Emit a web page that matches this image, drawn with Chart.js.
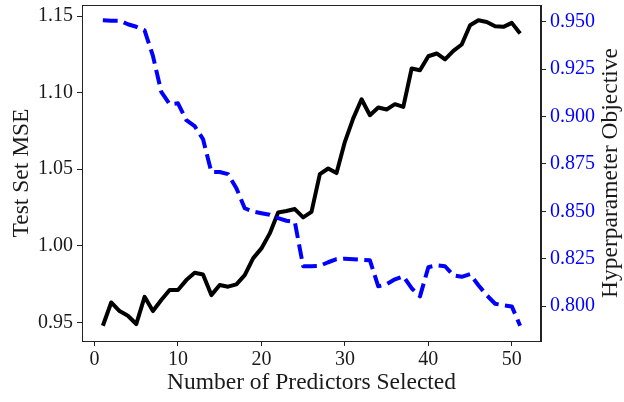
<!DOCTYPE html>
<html>
<head>
<meta charset="utf-8">
<script src="https://cdn.jsdelivr.net/npm/chart.js@4.4.1/dist/chart.umd.min.js"></script>
<style>
  html, body { margin: 0; padding: 0; background: #ffffff; }
  #wrap { width: 624px; height: 402px; }
</style>
</head>
<body>
<div id="wrap"><canvas id="c" width="624" height="402"></canvas></div>
<script>
// Number of predictors kept at each step
const predictors = [1, 2, 3, 4, 5, 6, 7, 8, 9, 10, 11, 12, 13, 14, 15, 16, 17, 18, 19, 20,
  21, 22, 23, 24, 25, 26, 27, 28, 29, 30, 31, 32, 33, 34, 35, 36, 37, 38, 39, 40,
  41, 42, 43, 44, 45, 46, 47, 48, 49, 50, 51];

// Test-set mean squared error (left axis)
const testMSE = [0.9478, 0.9630, 0.9574, 0.9543, 0.9489, 0.9667, 0.9574, 0.9646, 0.9711, 0.9711,
  0.9776, 0.9824, 0.9813, 0.9678, 0.9744, 0.9733, 0.9748, 0.9809, 0.9918, 0.9983,
  1.0081, 1.0218, 1.0227, 1.0240, 1.0186, 1.0222, 1.0468, 1.0505, 1.0475, 1.0679,
  1.0832, 1.0957, 1.0853, 1.0903, 1.0890, 1.0925, 1.0907, 1.1158, 1.1147, 1.1238,
  1.1256, 1.1217, 1.1273, 1.1315, 1.1440, 1.1473, 1.1462, 1.1434, 1.1430, 1.1456, 1.1386];

// Hyperparameter objective (right axis)
const hyperObjective = [0.9508, 0.9506, 0.9506, 0.9487, 0.9474, 0.9455, 0.9320, 0.9130, 0.9065, 0.9070,
  0.8981, 0.8949, 0.8881, 0.8707, 0.8707, 0.8696, 0.8622, 0.8516, 0.8498, 0.8490,
  0.8482, 0.8464, 0.8450, 0.8444, 0.8210, 0.8210, 0.8212, 0.8231, 0.8247, 0.8250,
  0.8247, 0.8244, 0.8241, 0.8104, 0.8115, 0.8141, 0.8157, 0.8094, 0.8051, 0.8205,
  0.8215, 0.8210, 0.8162, 0.8154, 0.8168, 0.8110, 0.8057, 0.8012, 0.8004, 0.7998, 0.7896];

// Tick positions
const xTicks = [0, 10, 20, 30, 40, 50];
const mseTicks = [0.95, 1.00, 1.05, 1.10, 1.15];
const objTicks = [0.800, 0.825, 0.850, 0.875, 0.900, 0.925, 0.950];

// Axis titles
const xTitle = 'Number of Predictors Selected';
const mseTitle = 'Test Set MSE';
const objTitle = 'Hyperparameter Objective';

const SERIF = "'Liberation Serif', 'DejaVu Serif', serif";
const INK = '#1a1a1a';

// Auto-range with a 5% margin on each side
function padded(values) {
  const lo = Math.min(...values), hi = Math.max(...values);
  const m = (hi - lo) * 0.05;
  return { min: lo - m, max: hi + m };
}
const xr = padded(predictors);
const mr = padded(testMSE);
const orr = padded(hyperObjective);

const toPoints = (ys) => predictors.map((x, i) => ({ x, y: ys[i] }));
const fixTicks = (list) => (scale) => { scale.ticks = list.map(v => ({ value: v })); };
// Fixed axis thickness; tick labels may overhang the plot edges
const fitTo = (prop, size) => (s) => {
  s[prop] = size;
  s.paddingTop = 0; s.paddingBottom = 0; s.paddingLeft = 0; s.paddingRight = 0;
};

// Closes the frame on top and writes the right-hand axis title bottom-to-top
const framePlugin = {
  id: 'frame',
  afterDraw(chart) {
    const { ctx, chartArea: a } = chart;
    ctx.save();
    ctx.strokeStyle = '#222222';
    ctx.lineWidth = 1;
    ctx.strokeRect(a.left + 0.5, a.top + 0.5, a.right - a.left - 1, a.bottom - a.top);
    const s = chart.scales.yObj;
    ctx.translate(s.right - 13, (a.top + a.bottom) / 2);
    ctx.rotate(-Math.PI / 2);
    ctx.font = '23.5px ' + SERIF;
    ctx.fillStyle = INK;
    ctx.textAlign = 'center';
    ctx.textBaseline = 'middle';
    ctx.fillText(objTitle, 0, 0);
    ctx.restore();
  }
};

const tickFont = { family: SERIF, size: 20 };
const titleFont = { family: SERIF, size: 23.5 };
const gridOpts = { drawOnChartArea: false, drawTicks: true, tickLength: 5, tickColor: '#222222', tickWidth: 1 };
const borderOpts = { color: '#222222', width: 1 };

new Chart(document.getElementById('c'), {
  type: 'line',
  data: {
    datasets: [
      {
        label: objTitle,
        data: toPoints(hyperObjective),
        yAxisID: 'yObj',
        borderColor: '#0000ff',
        borderWidth: 4,
        borderDash: [14.8, 6.4],
        borderJoinStyle: 'round',
        pointRadius: 0,
        tension: 0,
        fill: false,
        order: 0
      },
      {
        label: mseTitle,
        data: toPoints(testMSE),
        yAxisID: 'yMse',
        borderColor: '#000000',
        borderWidth: 4,
        borderJoinStyle: 'round',
        pointRadius: 0,
        tension: 0,
        fill: false,
        order: 1
      }
    ]
  },
  options: {
    responsive: false,
    animation: false,
    devicePixelRatio: 1,
    layout: { padding: { top: 5, left: 0, right: 0, bottom: 0 } },
    plugins: { legend: { display: false }, tooltip: { enabled: false } },
    scales: {
      x: {
        type: 'linear',
        min: xr.min, max: xr.max,
        afterBuildTicks: fixTicks(xTicks),
        afterFit: fitTo('height', 61),
        grid: gridOpts,
        border: borderOpts,
        ticks: { font: tickFont, color: INK, padding: 2, maxRotation: 0, callback: (v) => String(v) },
        title: { display: true, text: xTitle, font: titleFont, color: INK, padding: { top: 0, bottom: 5 } }
      },
      yMse: {
        type: 'linear',
        position: 'left',
        min: mr.min, max: mr.max,
        afterBuildTicks: fixTicks(mseTicks),
        afterFit: fitTo('width', 82),
        grid: gridOpts,
        border: borderOpts,
        ticks: { font: tickFont, color: INK, padding: 4, callback: (v) => v.toFixed(2) },
        title: { display: true, text: mseTitle, font: titleFont, color: INK, padding: { top: 8, bottom: 0 } }
      },
      yObj: {
        type: 'linear',
        position: 'right',
        min: orr.min, max: orr.max,
        afterBuildTicks: fixTicks(objTicks),
        afterFit: fitTo('width', 83),
        grid: gridOpts,
        border: borderOpts,
        ticks: { font: tickFont, color: '#0000ff', padding: 4, callback: (v) => v.toFixed(3) }
      }
    }
  },
  plugins: [framePlugin]
});
</script>
</body>
</html>
